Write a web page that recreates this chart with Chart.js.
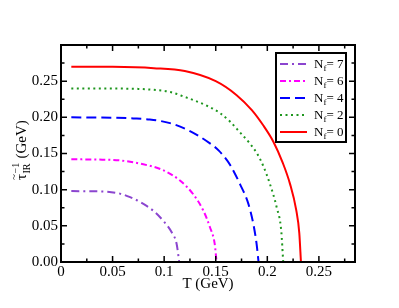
<!DOCTYPE html>
<html>
<head>
<meta charset="utf-8">
<script src="https://cdn.jsdelivr.net/npm/chart.js@4"></script>
<style>
  html, body { margin: 0; padding: 0; background: #fff; }
</style>
</head>
<body>
<canvas id="c" width="399" height="308"></canvas>
<script>
// values: T (GeV) and inverse IR time (GeV), one pair per N_f
var flavours = ["7", "6", "4", "2", "0"];
var tempNf7 = [0.01, 0.04, 0.0572, 0.067, 0.0766, 0.0894, 0.0991, 0.1073, 0.1121, 0.1146];
var rateNf7 = [0.098, 0.0975, 0.0945, 0.0897, 0.083, 0.071, 0.057, 0.041, 0.025, 0.0];
var tempNf6 = [0.01, 0.04, 0.057, 0.0766, 0.099, 0.115, 0.128, 0.138, 0.1444, 0.149, 0.1508];
var rateNf6 = [0.142, 0.1415, 0.1405, 0.136, 0.127, 0.113, 0.094, 0.071, 0.048, 0.025, 0.0];
var tempNf4 = [0.01, 0.05, 0.07, 0.086, 0.1056, 0.125, 0.1444, 0.153, 0.164, 0.1734, 0.1815, 0.1864, 0.1896, 0.1915];
var rateNf4 = [0.200, 0.1995, 0.1985, 0.197, 0.192, 0.181, 0.164, 0.154, 0.134, 0.108, 0.081, 0.053, 0.025, 0.0];
var tempNf2 = [0.01, 0.05, 0.075, 0.09, 0.106, 0.1185, 0.143, 0.154, 0.164, 0.173, 0.183, 0.19, 0.196, 0.2025, 0.209, 0.2135, 0.2154];
var rateNf2 = [0.240, 0.2398, 0.2393, 0.238, 0.235, 0.229, 0.215, 0.206, 0.194, 0.180, 0.164, 0.150, 0.133, 0.108, 0.076, 0.043, 0.0];
var tempNf0 = [0.01, 0.05, 0.09, 0.12, 0.15, 0.17, 0.185, 0.196, 0.206, 0.215, 0.222, 0.228, 0.231, 0.2326];
var rateNf0 = [0.270, 0.2698, 0.268, 0.264, 0.250, 0.231, 0.210, 0.189, 0.166, 0.137, 0.108, 0.072, 0.040, 0.0];

var xTicks = [0, 0.05, 0.1, 0.15, 0.2, 0.25];
var xMinorTicks = [0.025, 0.075, 0.125, 0.175, 0.225, 0.275];
var yTicks = [0, 0.05, 0.1, 0.15, 0.2, 0.25];
var yMinorTicks = [0.025, 0.075, 0.125, 0.175, 0.225, 0.275];

var serif = "'Liberation Serif', 'Times New Roman', serif";

function pairs(ts, vs) {
    var out = [];
    for (var i = 0; i < ts.length; i++) out.push({x: ts[i], y: vs[i]});
    return out;
}

function makeSet(nf, ts, vs, color, dash) {
    return {
        label: "Nf= " + nf,
        data: pairs(ts, vs),
        borderColor: color,
        borderDash: dash,
        borderWidth: 2,
        pointRadius: 0,
        fill: false,
        cubicInterpolationMode: "monotone"
    };
}

var datasets = [
    makeSet(flavours[0], tempNf7, rateNf7, "#8b45cf", [8, 4, 2, 4]),
    makeSet(flavours[1], tempNf6, rateNf6, "#ff00ff", [6, 3, 2, 3]),
    makeSet(flavours[2], tempNf4, rateNf4, "#0000ff", [10, 5]),
    makeSet(flavours[3], tempNf2, rateNf2, "#1e961e", [2, 3.5]),
    makeSet(flavours[4], tempNf0, rateNf0, "#ff0000", [])
];

// grace-like frame, inward ticks on all sides, axis titles and legend box
var decorations = {
    id: "decorations",
    afterDraw: function(chart) {
        var ctx = chart.ctx;
        var a = chart.chartArea;
        var xs = chart.scales.x, ys = chart.scales.y;
        ctx.save();
        ctx.strokeStyle = "#000";
        ctx.lineWidth = 1.5;
        function xTick(v, len) {
            var px = xs.getPixelForValue(v);
            ctx.beginPath();
            ctx.moveTo(px, a.bottom); ctx.lineTo(px, a.bottom - len);
            ctx.moveTo(px, a.top); ctx.lineTo(px, a.top + len);
            ctx.stroke();
        }
        function yTick(v, len) {
            var py = ys.getPixelForValue(v);
            ctx.beginPath();
            ctx.moveTo(a.left, py); ctx.lineTo(a.left + len, py);
            ctx.moveTo(a.right, py); ctx.lineTo(a.right - len, py);
            ctx.stroke();
        }
        xTicks.forEach(function(v) { xTick(v, 6); });
        xMinorTicks.forEach(function(v) { xTick(v, 3.5); });
        yTicks.forEach(function(v) { yTick(v, 6); });
        yMinorTicks.forEach(function(v) { yTick(v, 3.5); });
        ctx.lineWidth = 2;
        ctx.strokeRect(a.left, a.top, a.right - a.left, a.bottom - a.top);

        // axis titles
        ctx.fillStyle = "#000";
        ctx.font = "15px " + serif;
        ctx.textAlign = "center";
        ctx.textBaseline = "alphabetic";
        ctx.fillText("T (GeV)", (a.left + a.right) / 2, 288);

        ctx.save();
        ctx.translate(26, 180);
        ctx.rotate(-Math.PI / 2);
        ctx.textAlign = "left";
        ctx.font = "15px " + serif;
        var wt = ctx.measureText("\u03c4").width;
        ctx.fillText("\u03c4", 0, 0);
        ctx.font = "11px " + serif;
        ctx.textAlign = "center";
        ctx.fillText("~", wt / 2, -9);
        ctx.textAlign = "left";
        ctx.font = "10px " + serif;
        ctx.fillText("\u22121", wt + 0.5, -7);
        ctx.fillText("IR", wt + 0.5, 4);
        var ws = Math.max(ctx.measureText("\u22121").width, ctx.measureText("IR").width);
        ctx.font = "15px " + serif;
        ctx.fillText(" (GeV)", wt + ws + 1, 0);
        ctx.restore();

        // legend
        var bx = 276, by = 53, bw = 70, bh = 89;
        ctx.fillStyle = "#fff";
        ctx.fillRect(bx, by, bw, bh);
        ctx.lineWidth = 2;
        ctx.strokeStyle = "#000";
        ctx.strokeRect(bx, by, bw, bh);
        chart.data.datasets.forEach(function(ds, i) {
            var y = 64 + i * 17;
            ctx.save();
            ctx.strokeStyle = ds.borderColor;
            ctx.lineWidth = 2;
            ctx.setLineDash(ds.borderDash);
            ctx.beginPath();
            ctx.moveTo(280, y); ctx.lineTo(307, y);
            ctx.stroke();
            ctx.restore();
            ctx.fillStyle = "#000";
            ctx.textAlign = "left";
            ctx.font = "13px " + serif;
            ctx.fillText("N", 314, y + 4);
            var wn = ctx.measureText("N").width;
            ctx.font = "9px " + serif;
            ctx.fillText("f", 314 + wn, y + 7);
            var wf = ctx.measureText("f").width;
            ctx.font = "13px " + serif;
            ctx.fillText("= " + flavours[i], 314 + wn + wf, y + 4);
        });
        ctx.restore();
    }
};

var chart = new Chart(document.getElementById("c"), {
    type: "line",
    data: { datasets: datasets },
    options: {
        responsive: false,
        animation: false,
        devicePixelRatio: 1,
        layout: { padding: { top: 45, right: 44, left: 0, bottom: 0 } },
        plugins: { legend: { display: false }, tooltip: { enabled: false } },
        scales: {
            x: {
                type: "linear",
                min: 0,
                max: 0.285,
                afterBuildTicks: function(s) { s.ticks = xTicks.map(function(v) { return {value: v}; }); },
                afterFit: function(s) { s.height = 46; },
                grid: { display: false, drawTicks: false },
                border: { display: false },
                ticks: {
                    autoSkip: false,
                    maxRotation: 0,
                    padding: 1,
                    color: "#000",
                    font: { family: serif, size: 15 },
                    callback: function(v) { return String(parseFloat(Number(v).toFixed(3))); }
                }
            },
            y: {
                type: "linear",
                min: 0,
                max: 0.3,
                afterBuildTicks: function(s) { s.ticks = yTicks.map(function(v) { return {value: v}; }); },
                afterFit: function(s) { s.width = 61; },
                grid: { display: false, drawTicks: false },
                border: { display: false },
                ticks: {
                    autoSkip: false,
                    padding: 3,
                    color: "#000",
                    font: { family: serif, size: 15 },
                    callback: function(v) { return Number(v).toFixed(2); }
                }
            }
        }
    },
    plugins: [decorations]
});
</script>
</body>
</html>
